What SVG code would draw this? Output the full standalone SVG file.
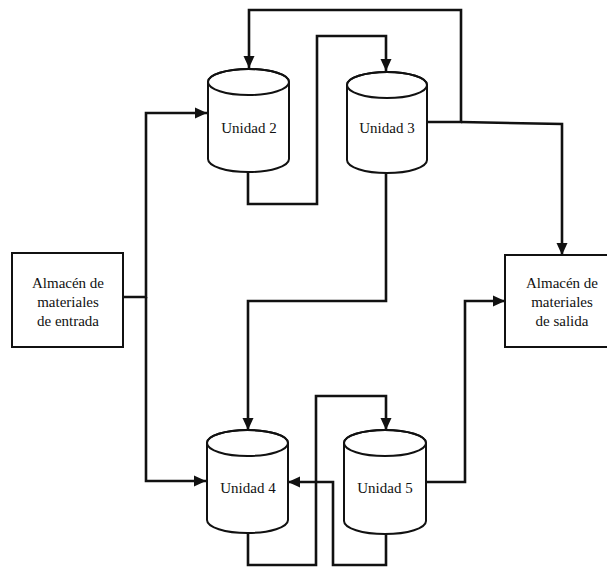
<svg xmlns="http://www.w3.org/2000/svg" width="607" height="569" viewBox="0 0 607 569">
  <style>
    .shape { fill: #ffffff; stroke: #111111; stroke-width: 2; }
    .rim { fill: none; stroke: #111111; stroke-width: 2; }
    .wire { fill: none; stroke: #111111; stroke-width: 2.6; stroke-linejoin: miter; }
    .label { font-family: "Liberation Serif", "Times New Roman", serif; font-size: 15px; fill: #111111; text-anchor: middle; }
  </style>
  <defs>
    <marker id="arrow" viewBox="0 0 12 12" refX="12" refY="6" markerWidth="12" markerHeight="12" markerUnits="userSpaceOnUse" orient="auto">
      <path d="M0,0.5 L12,6 L0,11.5 Z" fill="#111111"/>
    </marker>
  </defs>

  <rect width="607" height="569" fill="#ffffff"/>

  <!-- connectors -->
  <g id="connectors">
    <!-- input store feeding units 2 and 4 -->
    <path class="wire" d="M123,297 H146 V113 H207" marker-end="url(#arrow)"/>
    <path class="wire" d="M146,297 V481 H206" marker-end="url(#arrow)"/>
    <!-- unit 2 to unit 3 -->
    <path class="wire" d="M248,171 V204 H317 V36 H386 V71" marker-end="url(#arrow)"/>
    <!-- unit 3 back to unit 2 over the top -->
    <path class="wire" d="M427,122 H461 V10 H249 V68" marker-end="url(#arrow)"/>
    <!-- unit 3 to output store -->
    <path class="wire" d="M461,122 L562,124 V255" marker-end="url(#arrow)"/>
    <!-- unit 3 to unit 4 -->
    <path class="wire" d="M386,173 V301 H248 V430" marker-end="url(#arrow)"/>
    <!-- unit 4 to unit 5 -->
    <path class="wire" d="M248,532 V565 H316 V396 H386 V430" marker-end="url(#arrow)"/>
    <!-- unit 5 back to unit 4 -->
    <path class="wire" d="M386,533 V565 H333 V482 H288" marker-end="url(#arrow)"/>
    <!-- unit 5 to output store -->
    <path class="wire" d="M426,482 H465 V301 H505" marker-end="url(#arrow)"/>
  </g>

  <g id="almacen-entrada">
    <rect class="shape" x="12" y="253" width="111" height="94"/>
    <text class="label" x="68" y="288">Almacén de</text>
    <text class="label" x="68" y="307">materiales</text>
    <text class="label" x="68" y="326">de entrada</text>
  </g>

  <g id="almacen-salida">
    <rect class="shape" x="505" y="255" width="106" height="92"/>
    <text class="label" x="562" y="288">Almacén de</text>
    <text class="label" x="562" y="307">materiales</text>
    <text class="label" x="562" y="326">de salida</text>
  </g>

  <g id="unidad-2">
    <path class="shape" d="M208,82 V159 A40.5,13 0 0 0 289,159 V82 A40.5,13 0 0 0 208,82 Z"/>
    <ellipse class="rim" cx="248.5" cy="82" rx="40.5" ry="13"/>
    <text class="label" x="249" y="133">Unidad 2</text>
  </g>

  <g id="unidad-3">
    <path class="shape" d="M347,85 V160 A40,13 0 0 0 427,160 V85 A40,13 0 0 0 347,85 Z"/>
    <ellipse class="rim" cx="387" cy="85" rx="40" ry="13"/>
    <text class="label" x="387" y="133">Unidad 3</text>
  </g>

  <g id="unidad-4">
    <path class="shape" d="M207,443 V520 A40.5,13 0 0 0 288,520 V443 A40.5,13 0 0 0 207,443 Z"/>
    <ellipse class="rim" cx="247.5" cy="443" rx="40.5" ry="13"/>
    <text class="label" x="248" y="493">Unidad 4</text>
  </g>

  <g id="unidad-5">
    <path class="shape" d="M344,443 V521 A41,13 0 0 0 426,521 V443 A41,13 0 0 0 344,443 Z"/>
    <ellipse class="rim" cx="385" cy="443" rx="41" ry="13"/>
    <text class="label" x="385" y="493">Unidad 5</text>
  </g>
</svg>
